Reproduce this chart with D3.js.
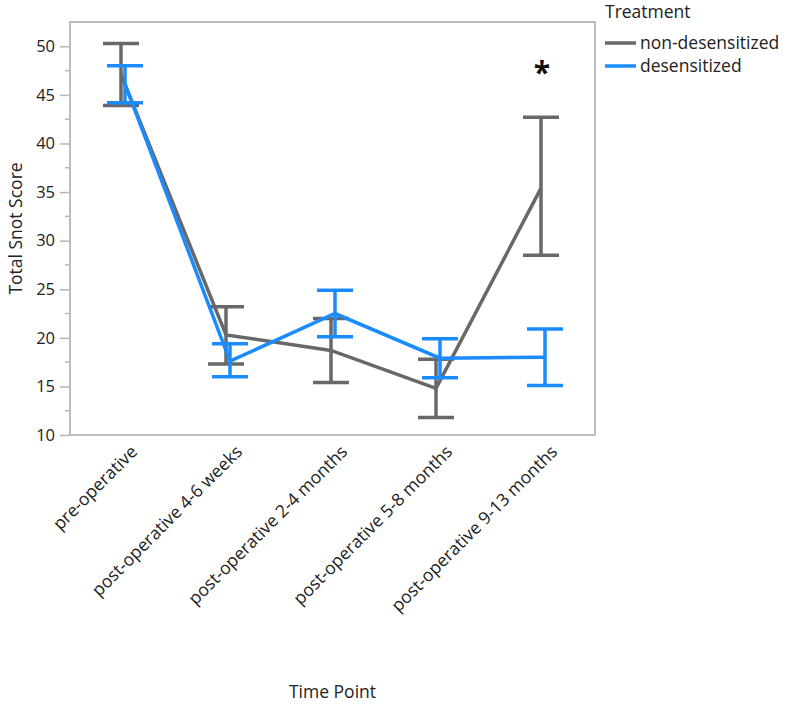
<!DOCTYPE html>
<html><head><meta charset="utf-8">
<script src="https://cdn.jsdelivr.net/npm/d3@7"></script>
<style>body{margin:0;background:#fff}svg{font-family:"Open Sans","Noto Sans",sans-serif}</style>
</head><body><svg id="c" width="787" height="708"></svg>
<script>
const categories = ["pre-operative","post-operative 4-6 weeks","post-operative 2-4 months","post-operative 5-8 months","post-operative 9-13 months"];
const seriesNames = ["non-desensitized","desensitized"];
const nonMean = [47.1, 20.3, 18.7, 14.8, 35.4];
const nonLow  = [43.9, 17.3, 15.4, 11.8, 28.5];
const nonHigh = [50.3, 23.2, 22.0, 17.8, 42.7];
const desMean = [46.1, 17.6, 22.5, 17.9, 18.0];
const desLow  = [44.2, 16.0, 20.1, 15.9, 15.1];
const desHigh = [48.0, 19.4, 24.9, 19.9, 20.9];
const yTicks = [10,15,20,25,30,35,40,45,50];
const colors = ["#686868","#1a8cff"];

const svg = d3.select("#c");
const L=70,R=595,T=22,B=435;
const x = d3.scaleBand().domain(categories).range([L,R]);
const y = d3.scaleLinear().domain([10,52.5]).range([B,T]);
const offs = [-1.5, 2.5];

// minor ticks
const minor = d3.range(12.5,52.5,5);
svg.append("g").selectAll("line").data(minor).join("line")
  .attr("x1",L-5).attr("x2",L).attr("y1",d=>y(d)).attr("y2",d=>y(d))
  .attr("stroke","#b5b5b5").attr("stroke-width",1.5);
const ya = svg.append("g").attr("transform",`translate(${L},0)`)
  .call(d3.axisLeft(y).tickValues(yTicks).tickSize(10).tickPadding(5));
ya.select(".domain").remove();
ya.selectAll(".tick line").attr("stroke","#b5b5b5").attr("stroke-width",1.5);
ya.selectAll(".tick text").attr("font-size",16.5).attr("fill","#222").attr("font-family","Open Sans");

// frame
svg.append("rect").attr("x",L).attr("y",T).attr("width",R-L).attr("height",B-T)
  .attr("fill","none").attr("stroke","#bdbdbd").attr("stroke-width",2);

// x labels
svg.append("g").selectAll("text").data(categories).join("text")
  .attr("transform",d=>`translate(${x(d)+x.bandwidth()/2+7},${B+9}) rotate(-45)`)
  .attr("text-anchor","end").attr("dy","0.72em").attr("font-size",17.5).attr("fill","#222")
  .text(d=>d);

const series = [
  {name:seriesNames[0], mean:nonMean, lo:nonLow, hi:nonHigh},
  {name:seriesNames[1], mean:desMean, lo:desLow, hi:desHigh}
];
const cx = (i,s)=>x(categories[i])+x.bandwidth()/2+offs[s];
series.forEach((s,si)=>{
  const g = svg.append("g");
  const line = d3.line().x((d,i)=>cx(i,si)).y(d=>y(d));
  g.append("path").attr("d",line(s.mean)).attr("fill","none")
    .attr("stroke",colors[si]).attr("stroke-width",3.5);
  s.mean.forEach((m,i)=>{
    const c = cx(i,si);
    g.append("line").attr("x1",c).attr("x2",c).attr("y1",y(s.lo[i])).attr("y2",y(s.hi[i]))
      .attr("stroke",colors[si]).attr("stroke-width",3.5);
    [s.lo[i],s.hi[i]].forEach(v=>{
      g.append("line").attr("x1",c-18).attr("x2",c+18).attr("y1",y(v)).attr("y2",y(v))
        .attr("stroke",colors[si]).attr("stroke-width",3.5);
    });
  });
});

// asterisk
svg.append("text").attr("x",cx(4,0)+1).attr("y",y(nonHigh[4])-34).attr("text-anchor","middle")
  .attr("font-size",30).attr("font-weight","bold").attr("fill","#111").text("*");

// axis titles
svg.append("text").attr("transform",`translate(22,${(T+B)/2}) rotate(-90)`)
  .attr("text-anchor","middle").attr("font-size",17.5).attr("fill","#222").text("Total Snot Score");
svg.append("text").attr("x",(L+R)/2).attr("y",698).attr("text-anchor","middle")
  .attr("font-size",17.5).attr("fill","#222").text("Time Point");

// legend
svg.append("text").attr("x",605).attr("y",18).attr("font-size",17.5).attr("fill","#222").text("Treatment");
series.forEach((s,si)=>{
  const yy = 43 + si*23;
  svg.append("line").attr("x1",605).attr("x2",636).attr("y1",yy).attr("y2",yy)
    .attr("stroke",colors[si]).attr("stroke-width",3.5);
  svg.append("text").attr("x",640).attr("y",yy).attr("dy","0.35em").attr("font-size",17.5)
    .attr("fill","#222").text(s.name);
});
</script></body></html>
